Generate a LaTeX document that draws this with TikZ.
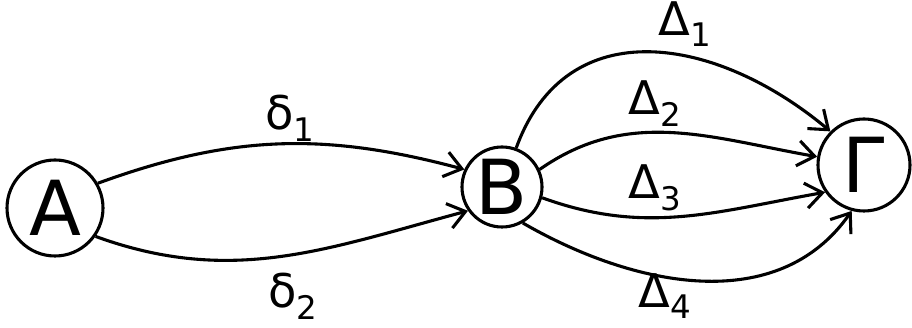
\documentclass[tikz,border=0pt]{standalone}
\usepackage{fontspec}
\setmainfont{DejaVu Sans}
\usetikzlibrary{arrows.meta}

\begin{document}
\begin{tikzpicture}[line width=2.2pt, >={Straight Barb[length=12pt,width=18pt]},
  state/.style={draw, circle, inner sep=0pt, font=\fontsize{54}{54}\selectfont},
  lbl/.style={font=\fontsize{33}{33}\selectfont}]
\useasboundingbox (0,0) rectangle (22.8,8.2);
\node[state, minimum size=2.4cm] (A) at (1.375,3.0) {A};
\node[state, minimum size=2.0cm] (B) at (12.55,3.525) {B};
\node[state, minimum size=2.3cm] (G) at (21.6,4.075) {Γ};
\node[lbl] (d1) at (7.25,5.25) {δ\textsubscript{1}};
\node[lbl] (d2) at (7.325,0.8) {δ\textsubscript{2}};
\node[lbl] (D1) at (17.125,7.6) {Δ\textsubscript{1}};
\node[lbl] (D2) at (16.375,5.6) {Δ\textsubscript{2}};
\node[lbl] (D3) at (16.375,3.5) {Δ\textsubscript{3}};
\node[lbl] (D4) at (16.625,0.8) {Δ\textsubscript{4}};
\draw[->] (A.30) to[out=20, in=165] (B.155);
\draw[->] (A.-35) to[out=-20, in=195] (B.-145);
\draw[->] (B.70) to[out=70, in=140, looseness=1.2] (G.135);
\draw[->] (B.25) to[out=35, in=170] (G.170);
\draw[->] (B.-15) to[out=-20, in=190] (G.-145);
\draw[->] (B.-60) to[out=-30, in=235] (G.-105);
\end{tikzpicture}
\end{document}
